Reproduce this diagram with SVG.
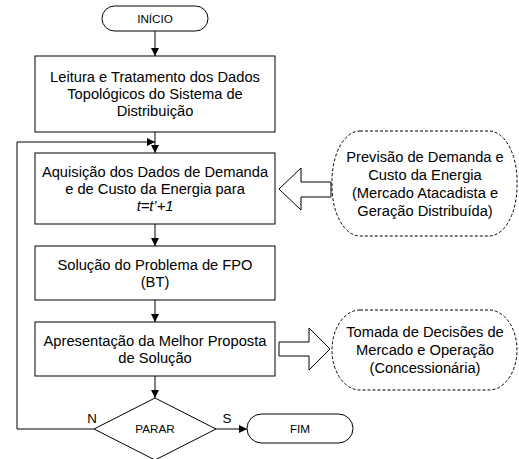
<svg xmlns="http://www.w3.org/2000/svg" width="519" height="459" viewBox="0 0 519 459">
<defs>
<marker id="ah" markerWidth="8" markerHeight="8" refX="8" refY="4" orient="auto" markerUnits="userSpaceOnUse">
<path d="M0,0 L8,4 L0,8 Z" fill="#000"/>
</marker>
<style>
.box{fill:#fff;stroke:#000;stroke-width:1}
.cloud{fill:#fff;stroke:#000;stroke-width:1;stroke-dasharray:3 2}
.blk{fill:#fff;stroke:#000;stroke-width:1}
.ln{fill:none;stroke:#000;stroke-width:1}
text{font-family:"Liberation Sans",Arial,sans-serif;fill:#000;text-anchor:middle}
.t{font-size:14.7px}
.s{font-size:11.7px}
.l{font-size:13.3px}
</style>
</defs>
<rect width="519" height="459" fill="#fff"/>
<g id="connectors">
<line class="ln" x1="155" y1="31" x2="155" y2="56" marker-end="url(#ah)"/>
<line class="ln" x1="155" y1="132" x2="155" y2="153" marker-end="url(#ah)"/>
<polyline class="ln" points="94,429 17,429 17,142 155,142" marker-end="url(#ah)"/>
<line class="ln" x1="155" y1="224" x2="155" y2="246" marker-end="url(#ah)"/>
<line class="ln" x1="155" y1="300" x2="155" y2="322" marker-end="url(#ah)"/>
<line class="ln" x1="155" y1="376" x2="155" y2="398" marker-end="url(#ah)"/>
<line class="ln" x1="216" y1="429" x2="247" y2="429" marker-end="url(#ah)"/>
<text class="l" x="92" y="423">N</text>
<text class="l" x="227" y="423">S</text>
<path class="blk" d="M279,189 L301,168 L301,182 L331,182 L331,197 L301,197 L301,210 Z"/>
<path class="blk" d="M330,349 L309,328 L309,342 L279,342 L279,356 L309,356 L309,370 Z"/>
</g>
<g id="inicio">
<rect class="box" x="102" y="6" width="106" height="25" rx="12.5"/>
<text class="s" x="155" y="23">INÍCIO</text>
</g>
<g id="leitura">
<rect class="box" x="35" y="56" width="240" height="76"/>
<text class="t" x="155" y="82">Leitura e Tratamento dos Dados</text>
<text class="t" x="155" y="99">Topológicos do Sistema de</text>
<text class="t" x="155" y="116">Distribuição</text>
</g>
<g id="aquisicao">
<rect class="box" x="35" y="153" width="240" height="71"/>
<text class="t" x="155" y="177">Aquisição dos Dados de Demanda</text>
<text class="t" x="155" y="194">e de Custo da Energia para</text>
<text class="t" x="155" y="211" font-style="italic">t=t’+1</text>
</g>
<g id="solucao">
<rect class="box" x="35" y="246" width="240" height="54"/>
<text class="t" x="155" y="270">Solução do Problema de FPO</text>
<text class="t" x="155" y="287">(BT)</text>
</g>
<g id="apresentacao">
<rect class="box" x="35" y="322" width="240" height="54"/>
<text class="t" x="155" y="346">Apresentação da Melhor Proposta</text>
<text class="t" x="155" y="363">de Solução</text>
</g>
<g id="parar">
<polygon class="box" points="155,398 216,429 155,460 94,429"/>
<text class="s" x="155" y="433">PARAR</text>
</g>
<g id="fim">
<rect class="box" x="247" y="414" width="106" height="29" rx="14.5"/>
<text class="s" x="300" y="433">FIM</text>
</g>
<g id="previsao">
<rect class="cloud" x="332" y="131" width="185" height="105" rx="28" ry="50"/>
<text class="t" x="425" y="162">Previsão de Demanda e</text>
<text class="t" x="425" y="180">Custo da Energia</text>
<text class="t" x="425" y="198">(Mercado Atacadista e</text>
<text class="t" x="425" y="216">Geração Distribuída)</text>
</g>
<g id="tomada">
<rect class="cloud" x="332" y="310" width="185" height="80" rx="28" ry="40"/>
<text class="t" x="425" y="337">Tomada de Decisões de</text>
<text class="t" x="425" y="355">Mercado e Operação</text>
<text class="t" x="425" y="373">(Concessionária)</text>
</g>
</svg>
